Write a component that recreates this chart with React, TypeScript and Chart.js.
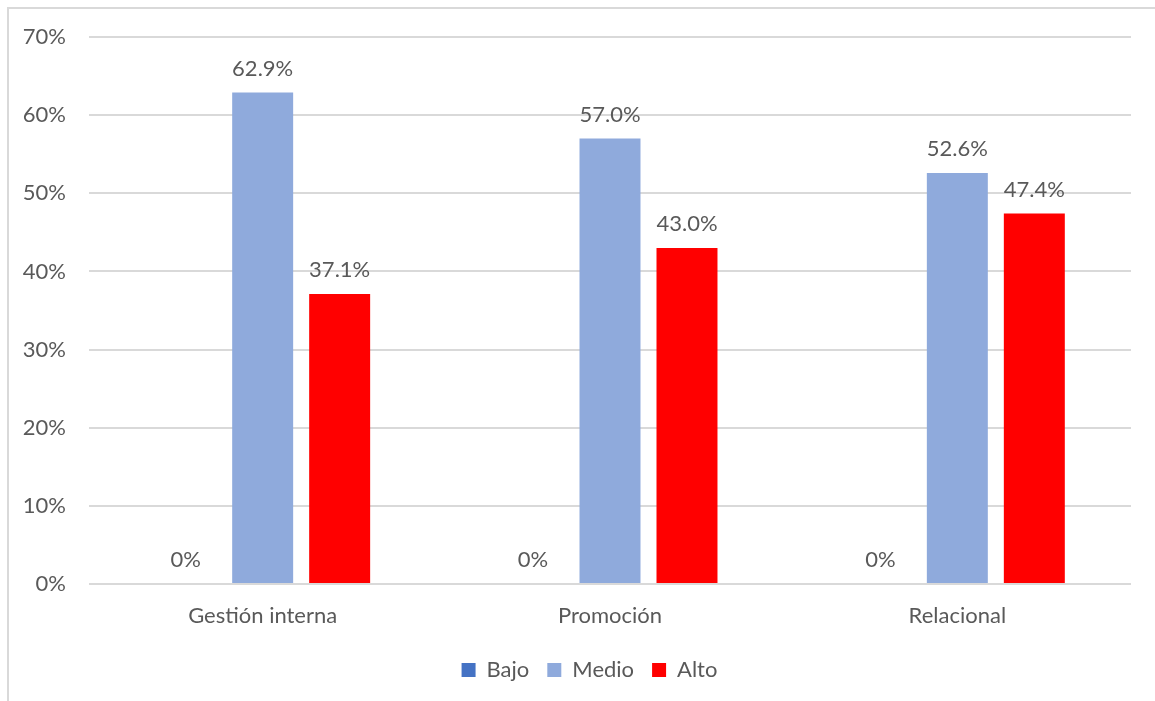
import React, { useEffect, useRef } from "react";
import { Chart, registerables } from "chart.js";

Chart.register(...registerables);

const categories = ["Gestión interna", "Promoción", "Relacional"];
const bajo = [0, 0, 0];
const medio = [0.629, 0.57, 0.526];
const alto = [0.371, 0.43, 0.474];
const yTicks = [0, 0.1, 0.2, 0.3, 0.4, 0.5, 0.6, 0.7];

const FONT = "Lato, 'Noto Sans', sans-serif";
const TEXT = "#595959";
const FS = 22;

function fmtLabel(v: number): string {
  if (v === 0) return "0%";
  return (v * 100).toFixed(1) + "%";
}

const labelPlugin = {
  id: "valueLabels",
  afterDatasetsDraw(chart: any) {
    const ctx = chart.ctx;
    ctx.save();
    ctx.font = `${FS}px ${FONT}`;
    ctx.fillStyle = TEXT;
    ctx.textAlign = "center";
    ctx.textBaseline = "middle";
    chart.data.datasets.forEach((ds: any, i: number) => {
      const meta = chart.getDatasetMeta(i);
      meta.data.forEach((bar: any, j: number) => {
        const v = ds.data[j];
        ctx.fillText(fmtLabel(v), bar.x, bar.y - 24);
      });
    });
    ctx.restore();
  },
};

const legendShift = {
  id: "legendShift",
  afterLayout(chart: any) {
    const lg = chart.legend;
    if (lg) {
      lg.left += 24;
      lg.right += 24;
    }
  },
};

export default function App() {
  const ref = useRef<HTMLCanvasElement>(null);
  useEffect(() => {
    document.body.style.margin = "0";
    const chart = new Chart(ref.current!, {
      type: "bar",
      data: {
        labels: categories,
        datasets: [
          { label: "Bajo", data: bajo, backgroundColor: "#4472C4" },
          { label: "Medio", data: medio, backgroundColor: "#8FAADC" },
          { label: "Alto", data: alto, backgroundColor: "#FF0000" },
        ],
      },
      options: {
        responsive: false,
        animation: false,
        datasets: { bar: { categoryPercentage: 0.665, barPercentage: 0.792 } },
        layout: { padding: { left: 0, right: 24, top: 37, bottom: 10 } },
        plugins: {
          tooltip: { enabled: false },
          legend: {
            position: "bottom",
            labels: {
              font: { family: FONT, size: FS },
              color: TEXT,
              boxWidth: 14,
              boxHeight: 14,
              padding: 18,
            },
          },
        },
        scales: {
          x: {
            grid: { display: false },
            border: { display: false },
            ticks: { font: { family: FONT, size: FS }, color: TEXT, padding: 11 },
            afterFit: (s: any) => {
              s.height = 57;
            },
          },
          y: {
            min: 0,
            max: 0.7,
            afterBuildTicks: (s: any) => {
              s.ticks = yTicks.map((v) => ({ value: v }));
            },
            grid: { color: "#D9D9D9", lineWidth: 2, drawTicks: false },
            border: { display: false },
            ticks: {
              font: { family: FONT, size: FS },
              color: TEXT,
              padding: 23,
              callback: (v: any) => Math.round(Number(v) * 100) + "%",
            },
            afterFit: (s: any) => {
              s.width = 89;
            },
          },
        },
      },
      plugins: [labelPlugin, legendShift],
    } as any);
    return () => chart.destroy();
  }, []);
  return (
    <div style={{ position: "fixed", left: 0, top: 0, width: 1155, height: 701, overflow: "hidden", background: "#fff" }}>
      <div
        style={{
          position: "absolute",
          left: 7,
          top: 7,
          width: 1200,
          height: 750,
          borderLeft: "2px solid #D9D9D9",
          borderTop: "2px solid #D9D9D9",
        }}
      />
      <canvas ref={ref} width={1155} height={701} style={{ position: "absolute", left: 0, top: 0 }} />
    </div>
  );
}
